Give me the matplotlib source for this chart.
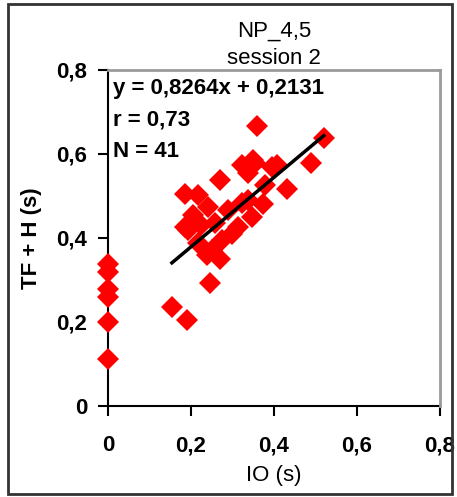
import numpy as np
import matplotlib
matplotlib.use("Agg")
import matplotlib.pyplot as plt
from matplotlib.patches import Rectangle

# IO (s) and TF + H (s), session 2, NP_4,5 (41 trials)
io_zero = [0, 0, 0, 0, 0, 0]
tfh_zero = [0.337, 0.318, 0.278, 0.259, 0.200, 0.112]

io = [0.520, 0.489, 0.431, 0.360, 0.374, 0.186, 0.270, 0.246, 0.154, 0.190,
      0.238, 0.205, 0.323, 0.349, 0.395, 0.217, 0.241, 0.289, 0.323, 0.193,
      0.313, 0.217, 0.250, 0.275, 0.299, 0.258, 0.186, 0.354, 0.407, 0.378,
      0.337, 0.347, 0.337, 0.270, 0.225]
tfh = [0.638, 0.577, 0.516, 0.666, 0.480, 0.503, 0.537, 0.292, 0.235, 0.204,
       0.359, 0.455, 0.572, 0.584, 0.568, 0.501, 0.473, 0.466, 0.482, 0.418,
       0.425, 0.387, 0.370, 0.394, 0.410, 0.435, 0.425, 0.577, 0.572, 0.525,
       0.553, 0.449, 0.490, 0.350, 0.430]

slope = 0.8264
intercept = 0.2131
r_value = 0.73
n_points = 41

ticks = [0, 0.2, 0.4, 0.6, 0.8]
tick_labels = ["0", "0,2", "0,4", "0,6", "0,8"]

plt.rcParams['font.family'] = ['Liberation Sans', 'DejaVu Sans']

fig = plt.figure(figsize=(4.57, 4.97), dpi=100)
ax = fig.add_axes([108/457, 1 - 406/497, 332/457, 336.5/497])

ax.plot(io_zero + io, tfh_zero + tfh, 'D', color='#ff0000', markersize=11.5,
        markeredgewidth=0, zorder=2, clip_on=False)

# trend line over the nonzero IO range
xl = np.array([min(io), max(io)])
ax.plot(xl, slope * xl + intercept, color='black', lw=2.5, zorder=3)

ax.set_xlim(0, 0.8)
ax.set_ylim(0, 0.8)
ax.set_xticks(ticks)
ax.set_xticklabels(tick_labels)
ax.set_yticks(ticks)
ax.set_yticklabels(tick_labels)
ax.tick_params(direction='out', length=7, width=1.5, labelsize=16, pad=8)
ax.tick_params(axis='x', pad=14)
for lab in ax.get_xticklabels() + ax.get_yticklabels():
    lab.set_fontweight('bold')

for s in ['left', 'bottom']:
    ax.spines[s].set_color('black')
    ax.spines[s].set_linewidth(1.5)
    ax.spines[s].set_zorder(1)
for s in ['top', 'right']:
    ax.spines[s].set_color('#9a9a9a')
    ax.spines[s].set_linewidth(2)
ax.tick_params(top=False, right=False)

ax.set_xlabel('IO (s)', fontsize=16, labelpad=6)
ax.set_ylabel('TF + H (s)', fontsize=16, fontweight='bold', labelpad=10)
ax.set_title('NP_4,5\nsession 2', fontsize=16, linespacing=1.4, pad=3)

txt = "y = 0,8264x + 0,2131\nr = {:.2f}\nN = {}".format(r_value, n_points).replace('.', ',')
ax.text(0.015, 0.975, txt, transform=ax.transAxes, ha='left', va='top',
        fontsize=16, fontweight='bold', linespacing=1.65, zorder=4)

# outer chart border
fig.patches.append(Rectangle((8/457, 1 - 494/497), 444/457, 490/497,
                             transform=fig.transFigure, fill=False,
                             edgecolor='#333333', lw=2))

fig.savefig('out.png', dpi=100)
